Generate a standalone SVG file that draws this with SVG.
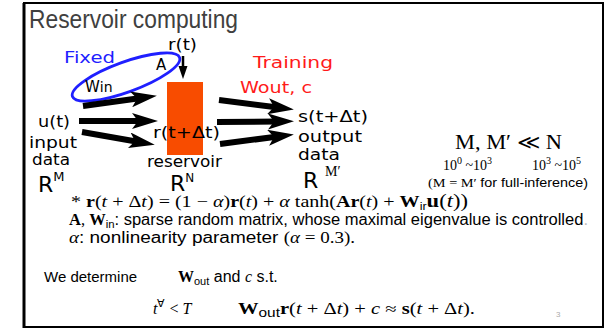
<svg xmlns="http://www.w3.org/2000/svg" width="605" height="329" viewBox="0 0 605 329">
<style>
.lbl{font-family:"DejaVu Sans",sans-serif;font-size:15px;fill:#000}
.blue{fill:#1f1fff}
.red{fill:#ff1a1a}
.big{font-family:"DejaVu Sans",sans-serif;font-size:22px;fill:#000}
.serif{font-family:"Liberation Serif",serif;fill:#000}
.math{font-family:"Liberation Serif",serif;font-size:16px;fill:#000}
.sans{font-family:"Liberation Sans",sans-serif}
.b{font-weight:bold}
.i{font-style:italic}
.arrow{stroke:#000;stroke-width:6;fill:none;marker-end:url(#head)}
</style>
<defs>
<marker id="head" markerUnits="userSpaceOnUse" viewBox="0 0 26 16" markerWidth="26" markerHeight="16" refX="10" refY="8" orient="auto">
<path d="M0,0 L26,8 L0,16 L6,8 z" fill="#000"/>
</marker>
</defs>
<rect x="0" y="0" width="605" height="329" fill="#fff"/>
<g id="frame">
<path d="M24,327 L24,3 L603,3 L603,327 Z" fill="none" stroke="#000" stroke-width="2"/>
<line x1="24" y1="3" x2="24" y2="328" stroke="#000" stroke-width="3"/>
</g>
<g id="title">
<text x="29" y="28" font-family="Liberation Sans, sans-serif" font-size="25" fill="#404040" textLength="209" lengthAdjust="spacingAndGlyphs">Reservoir computing</text>
</g>
<g id="fixed">
<ellipse cx="126" cy="77" rx="57" ry="15" transform="rotate(-20 126 77)" fill="none" stroke="#1f1fff" stroke-width="2.8"/>
<text class="lbl blue" x="64" y="63" font-size="16" textLength="51" lengthAdjust="spacingAndGlyphs">Fixed</text>
<text class="lbl" x="156" y="70" font-size="16">A</text>
<text class="lbl" x="85" y="92" font-size="17">W<tspan font-size="14">in</tspan></text>
</g>
<g id="reservoir">
<rect x="167" y="82" width="36" height="73" fill="#f84c00"/>
<text class="lbl" x="168" y="50" textLength="29" lengthAdjust="spacingAndGlyphs">r(t)</text>
<text class="lbl" x="153" y="138" textLength="67" lengthAdjust="spacingAndGlyphs">r(t+Δt)</text>
<text class="lbl" x="147" y="167" textLength="75" lengthAdjust="spacingAndGlyphs">reservoir</text>
<text class="big" x="170" y="191" font-size="21">R<tspan font-size="12" dy="-9">N</tspan></text>
</g>
<g id="input">
<text class="lbl" x="38" y="127" textLength="32" lengthAdjust="spacingAndGlyphs">u(t)</text>
<text class="lbl" x="29" y="148" textLength="48" lengthAdjust="spacingAndGlyphs">input</text>
<text class="lbl" x="32" y="165" textLength="38" lengthAdjust="spacingAndGlyphs">data</text>
<text class="big" x="38" y="192">R<tspan font-size="13" dy="-11">M</tspan></text>
</g>
<g id="training">
<text class="lbl red" x="253" y="68" font-size="16" textLength="80" lengthAdjust="spacingAndGlyphs">Training</text>
<text class="lbl red" x="240" y="93" font-size="17" textLength="72" lengthAdjust="spacingAndGlyphs">W<tspan font-size="15">out, c</tspan></text>
</g>
<g id="output">
<text class="lbl" x="298" y="122" textLength="70" lengthAdjust="spacingAndGlyphs">s(t+Δt)</text>
<text class="lbl" x="298" y="142" textLength="64" lengthAdjust="spacingAndGlyphs">output</text>
<text class="lbl" x="298" y="160" textLength="42" lengthAdjust="spacingAndGlyphs">data</text>
<text class="big" x="303" y="188">R</text>
<text class="serif" x="325" y="176" font-size="14">M′</text>
</g>
<g id="scale-note">
<text class="serif" x="455" y="149" font-size="20" textLength="107" lengthAdjust="spacingAndGlyphs">M, M′  ≪  N</text>
<text class="serif" x="443" y="170" font-size="14">10<tspan font-size="10" dy="-6">0</tspan><tspan dy="6"> ~10</tspan><tspan font-size="10" dy="-6">3</tspan></text>
<text class="serif" x="532" y="170" font-size="14">10<tspan font-size="10" dy="-6">3</tspan><tspan dy="6"> ~10</tspan><tspan font-size="10" dy="-6">5</tspan></text>
<text class="serif" x="428" y="187" font-size="13" textLength="160" lengthAdjust="spacingAndGlyphs">(M = M′ <tspan class="sans">for full-inference)</tspan></text>
</g>
<g id="connectors">
<line class="arrow" x1="83" y1="106" x2="141" y2="98"/>
<line class="arrow" x1="79" y1="121" x2="142" y2="121"/>
<line class="arrow" x1="82" y1="132" x2="139" y2="142"/>
<line class="arrow" x1="219" y1="100" x2="278" y2="107.5"/>
<line class="arrow" x1="217" y1="122" x2="278" y2="121.5"/>
<line class="arrow" x1="220" y1="144" x2="278" y2="136.5"/>
<line x1="183" y1="56" x2="183" y2="68" stroke="#000" stroke-width="2.5"/>
<path d="M178.5,66 L187.5,66 L183,79 Z" fill="#000"/>
</g>
<g id="equations">
<text class="math" x="71" y="207" textLength="397" lengthAdjust="spacingAndGlyphs">* <tspan class="b">r</tspan>(<tspan class="i">t</tspan> + Δ<tspan class="i">t</tspan>) = (1 − <tspan class="i">α</tspan>)<tspan class="b">r</tspan>(<tspan class="i">t</tspan>) + <tspan class="i">α</tspan> tanh(<tspan class="b">Ar</tspan>(<tspan class="i">t</tspan>) + <tspan class="b">W</tspan><tspan class="sans" font-size="10" dy="3">ir</tspan><tspan class="b" font-size="18" dy="-3">u</tspan><tspan font-size="18">(<tspan class="i">t</tspan>))</tspan></text>
<text class="math" x="69" y="225" textLength="519" lengthAdjust="spacingAndGlyphs"><tspan class="b">A</tspan>, <tspan class="b">W</tspan><tspan class="sans" font-size="11" dy="3">in</tspan><tspan class="sans" dy="-3">: sparse random matrix, whose maximal eigenvalue is controlled<tspan fill="#bbb">.</tspan></tspan></text>
<text class="math" x="69" y="243" textLength="286" lengthAdjust="spacingAndGlyphs"><tspan class="i">α</tspan><tspan class="sans">: nonlinearity parameter </tspan>(<tspan class="i">α</tspan> = 0.3).</text>
<text x="44" y="282" font-family="Liberation Sans, sans-serif" font-size="15" fill="#000">We determine</text>
<text class="math" x="178" y="282" font-size="16"><tspan class="b">W</tspan><tspan class="sans" font-size="11" dy="3">out</tspan><tspan class="sans" dy="-3"> and </tspan><tspan class="i">c</tspan><tspan class="sans"> s.t.</tspan></text>
<text class="math" x="153" y="314" font-size="17"><tspan class="i">t</tspan><tspan font-size="11" dy="-7">∀</tspan><tspan dy="7"> &lt; </tspan><tspan class="i">T</tspan></text>
<text class="math" x="238" y="314" font-size="17" textLength="237" lengthAdjust="spacingAndGlyphs"><tspan class="b">W</tspan><tspan class="sans" font-size="12" dy="3">out</tspan><tspan class="b" dy="-3">r</tspan>(<tspan class="i">t</tspan> + Δ<tspan class="i">t</tspan>) + <tspan class="i">c</tspan> ≈ <tspan class="b">s</tspan>(<tspan class="i">t</tspan> + Δ<tspan class="i">t</tspan>).</text>
<text x="556" y="317" font-family="Liberation Sans, sans-serif" font-size="8" fill="#aaa">3</text>
</g>
</svg>
